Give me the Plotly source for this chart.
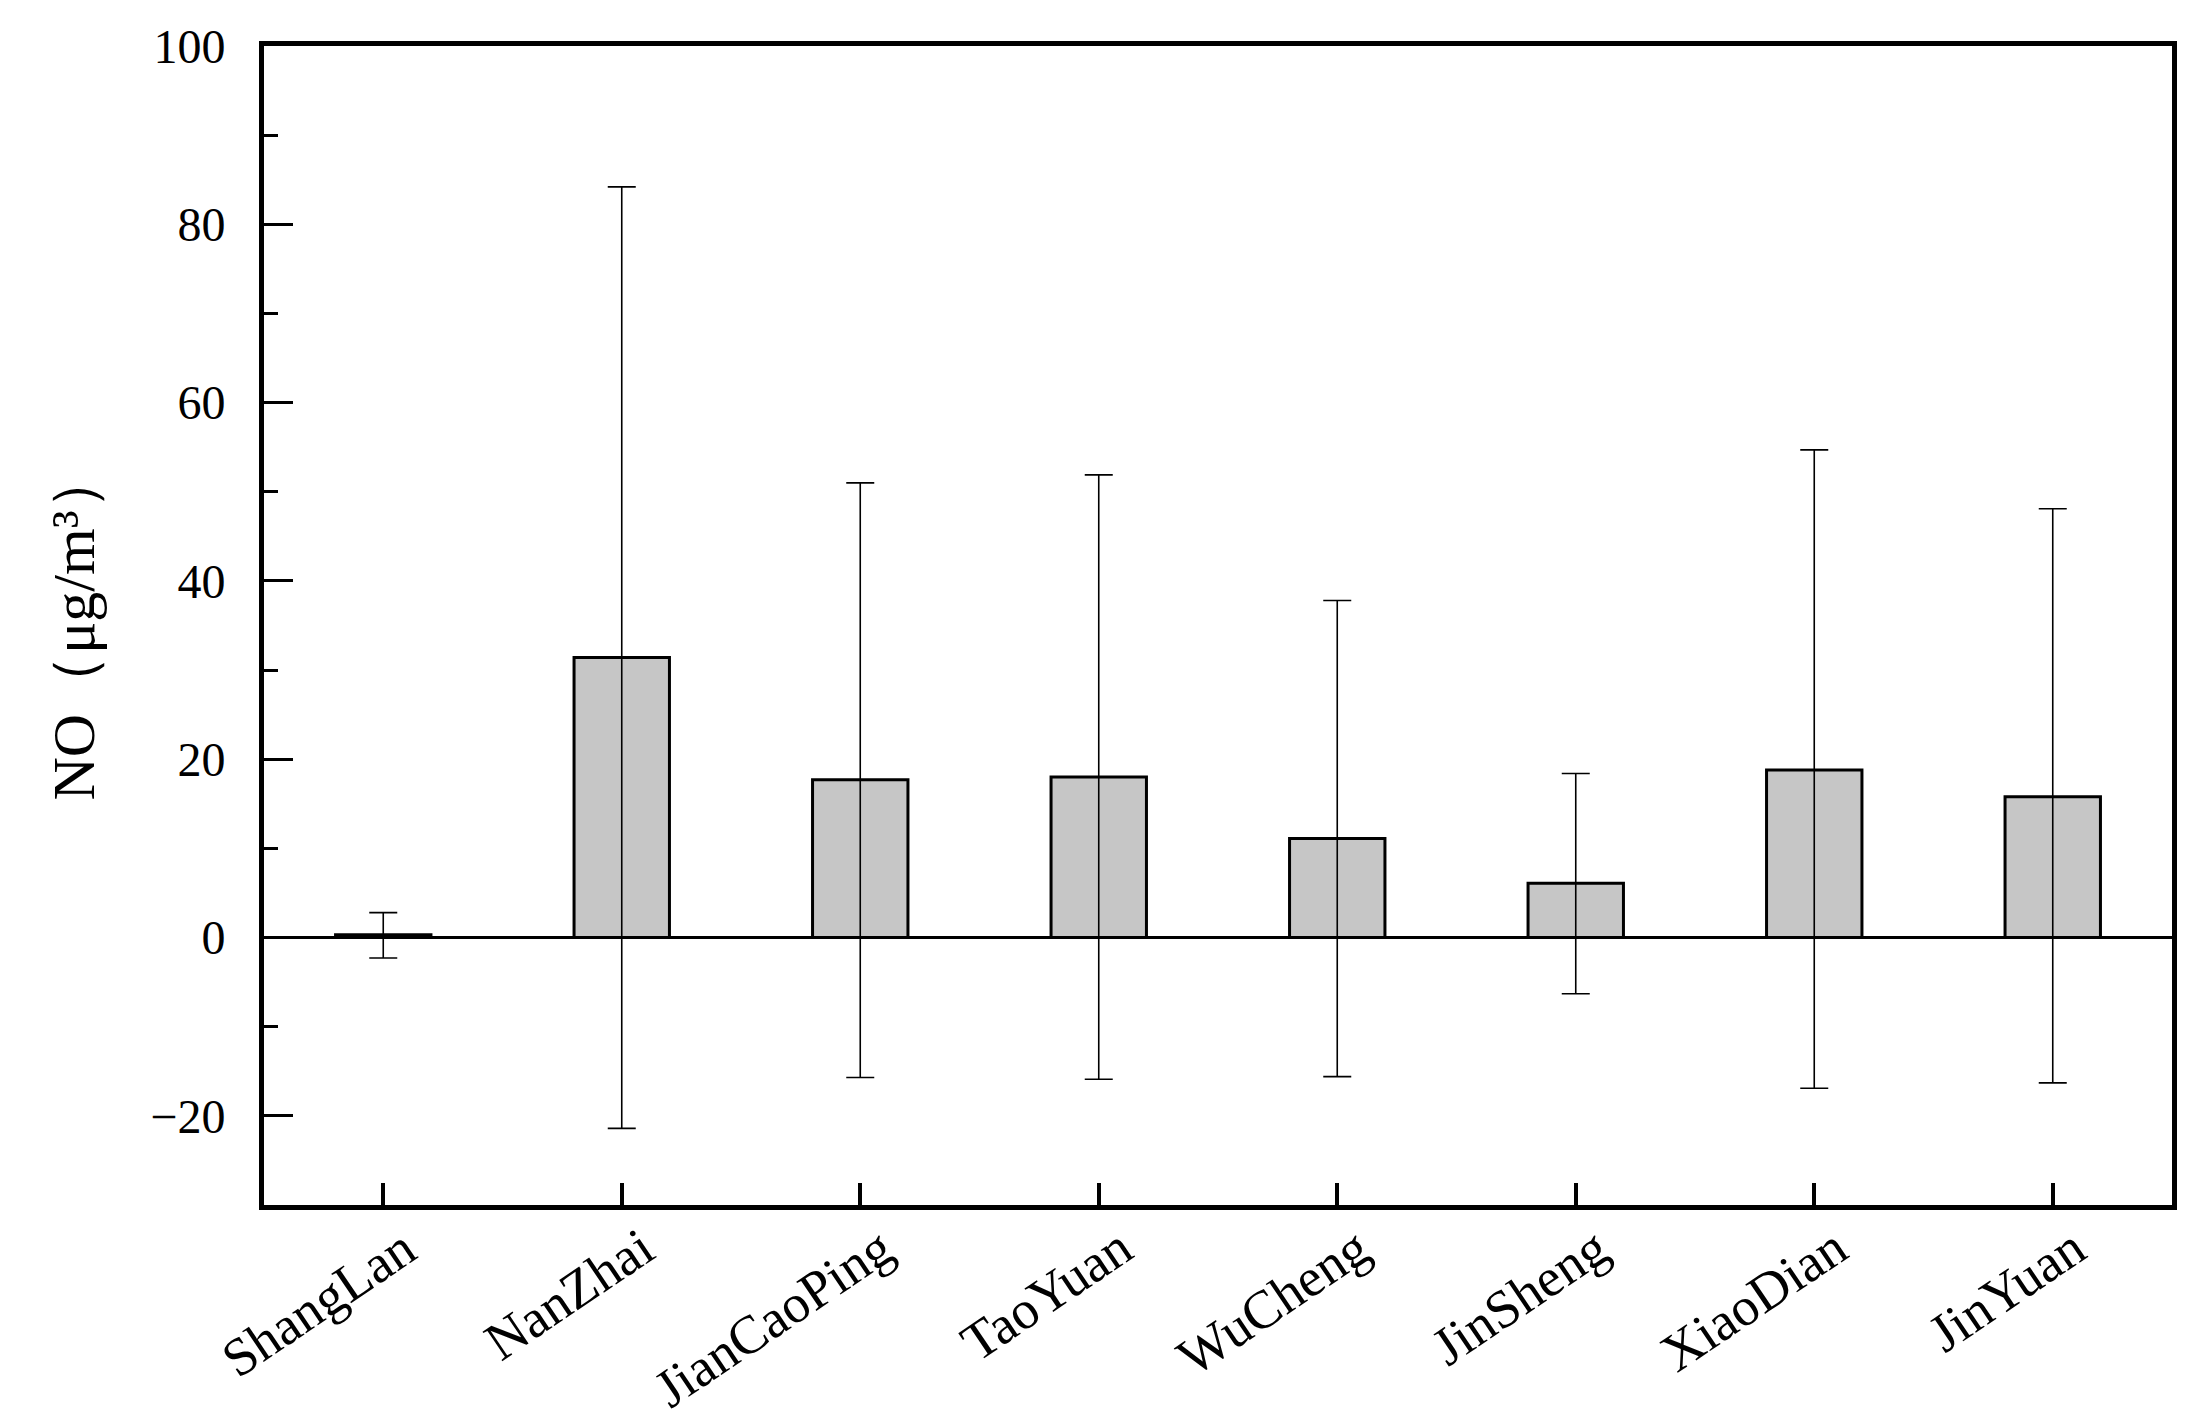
import plotly.graph_objects as go

sites = ["ShangLan", "NanZhai", "JianCaoPing", "TaoYuan", "WuCheng", "JinSheng", "XiaoDian", "JinYuan"]
no_mean = [0.3, 31.4, 17.7, 18.0, 11.1, 6.1, 18.8, 15.8]
no_err_plus = [2.5, 52.8, 33.3, 33.9, 26.7, 12.3, 35.9, 32.3]
no_err_minus = [2.6, 52.8, 33.4, 33.9, 26.7, 12.4, 35.7, 32.1]
y_ticks = [-20, 0, 20, 40, 60, 80, 100]
y_title = "NO（μg/m³）"

fig = go.Figure()
fig.add_trace(go.Bar(
    x=sites, y=no_mean, width=0.4,
    marker=dict(color="#c6c6c6", line=dict(color="black", width=3)),
    error_y=dict(type="data", array=no_err_plus, arrayminus=no_err_minus,
                 symmetric=False, color="black", thickness=1.6, width=14),
))

font_family = "Liberation Serif, Times New Roman, serif"
fig.update_layout(
    width=2202, height=1427,
    margin=dict(l=256, r=38, t=26, b=230),
    paper_bgcolor="white", plot_bgcolor="white",
    showlegend=False,
    font=dict(family=font_family, color="black"),
)
fig.update_xaxes(
    range=[-0.5, 7.5],
    showline=True, linewidth=5, linecolor="black", mirror=True,
    ticks="inside", ticklen=22, tickwidth=4, tickcolor="black",
    showticklabels=False,
    showgrid=False,
)
fig.update_yaxes(
    range=[-30, 100],
    tickvals=y_ticks,
    showline=True, linewidth=5, linecolor="black", mirror=True,
    ticks="inside", ticklen=29, tickwidth=3, tickcolor="black",
    minor=dict(ticks="inside", ticklen=14, tickwidth=3, tickcolor="black", dtick=10, showgrid=False),
    tickfont=dict(size=48, family=font_family),
    ticklabelstandoff=24,
    ticklabeloverflow="allow",
    showgrid=False,
    zeroline=True, zerolinecolor="black", zerolinewidth=3,
)
# category labels, rotated, anchored at each category position
for s in sites:
    fig.add_annotation(
        text=s, x=s, xref="x", y=0, yref="paper",
        xanchor="right", yanchor="top", xshift=46, yshift=-9,
        textangle=-34, showarrow=False,
        font=dict(size=54, family=font_family, color="black"),
    )
fig.add_annotation(
    text=y_title, xref="paper", yref="paper", x=0, y=0.5,
    xanchor="center", yanchor="middle", xshift=-191, yshift=0,
    textangle=-90, showarrow=False,
    font=dict(size=60, family=font_family, color="black"),
)
fig.write_html("out.html")
